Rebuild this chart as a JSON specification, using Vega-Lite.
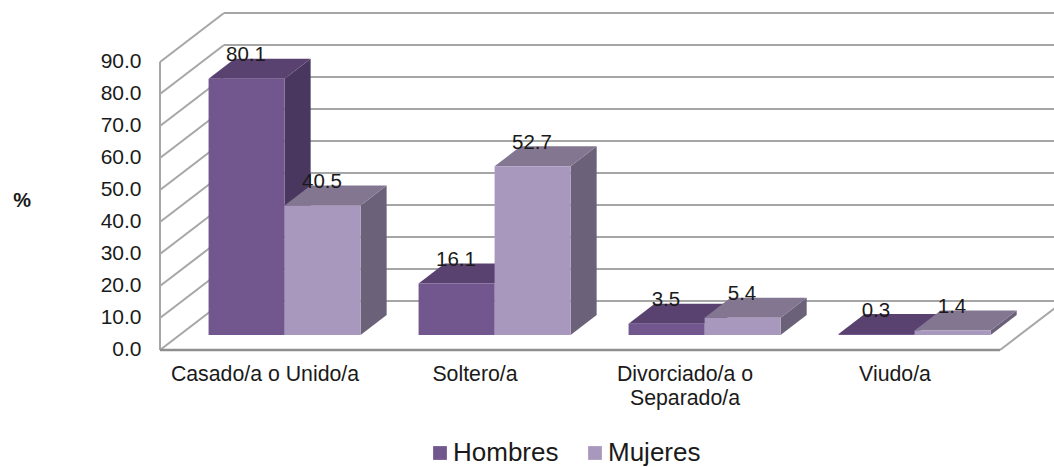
{
"$schema":"https://vega.github.io/schema/vega-lite/v6.json",
"width":1054,"height":467,"padding":0,"autosize":{"type":"none"},
"background":"#ffffff",
"config":{"view":{"stroke":null},"font":"Liberation Sans"},
"datasets":{
"barras":[
{"categoria":"Casado/a o Unido/a","orden":0,"sexo":"Hombres","valor":80.1},
{"categoria":"Casado/a o Unido/a","orden":0,"sexo":"Mujeres","valor":40.5},
{"categoria":"Soltero/a","orden":1,"sexo":"Hombres","valor":16.1},
{"categoria":"Soltero/a","orden":1,"sexo":"Mujeres","valor":52.7},
{"categoria":"Divorciado/a o\nSeparado/a","orden":2,"sexo":"Hombres","valor":3.5},
{"categoria":"Divorciado/a o\nSeparado/a","orden":2,"sexo":"Mujeres","valor":5.4},
{"categoria":"Viudo/a","orden":3,"sexo":"Hombres","valor":0.3},
{"categoria":"Viudo/a","orden":3,"sexo":"Mujeres","valor":1.4}],
"niveles":[{"nivel":0},{"nivel":10},{"nivel":20},{"nivel":30},{"nivel":40},{"nivel":50},{"nivel":60},{"nivel":70},{"nivel":80},{"nivel":90}],
"categorias":[{"categoria":"Casado/a o Unido/a","orden":0},{"categoria":"Soltero/a","orden":1},{"categoria":"Divorciado/a o\nSeparado/a","orden":2},{"categoria":"Viudo/a","orden":3}],
"eje":[{"nombre":"%"}]
},
"layer":[
{"data":{"name":"niveles"},
 "transform":[{"calculate":"datum.nivel+15.3","as":"fondo"}],
 "mark":{"type":"rule","color":"#a6a6a6","strokeWidth":2,"clip":true},
 "encoding":{
  "x":{"datum":0,"type":"quantitative","axis":null,"scale":{"domain":[-0.7619,4.2571],"nice":false,"zero":false}},
  "x2":{"datum":0.3048},
  "y":{"field":"nivel","type":"quantitative","scale":{"domain":[-36.56,109.375],"nice":false,"zero":false},
   "axis":{"values":[0,10,20,30,40,50,60,70,80,90],"format":".1f","title":null,"offset":-160,"ticks":false,"domain":false,"grid":false,"labelPadding":19,"labelFontSize":21,"labelColor":"#1a1a1a","labelOffset":-1,"labelFont":"Liberation Sans"}},
  "y2":{"field":"fondo"}}},
{"data":{"name":"niveles"},
 "transform":[{"calculate":"datum.nivel+15.3","as":"fondo"}],
 "mark":{"type":"rule","color":"#a6a6a6","strokeWidth":2,"clip":true},
 "encoding":{
  "x":{"datum":0.3048,"type":"quantitative","axis":null,"scale":{"domain":[-0.7619,4.2571],"nice":false,"zero":false}},
  "x2":{"datum":4.3048},
  "y":{"field":"fondo","type":"quantitative","scale":{"domain":[-36.56,109.375],"nice":false,"zero":false}}}},
{"data":{"name":"eje"},
 "mark":{"type":"rule","color":"#a6a6a6","strokeWidth":2},
 "encoding":{
  "x":{"datum":0,"type":"quantitative","axis":null,"scale":{"domain":[-0.7619,4.2571],"nice":false,"zero":false}},
  "y":{"datum":0,"type":"quantitative","scale":{"domain":[-36.56,109.375],"nice":false,"zero":false}},
  "y2":{"datum":90}}},
{"data":{"name":"eje"},
 "mark":{"type":"rule","color":"#8f8f8f","strokeWidth":2.5},
 "encoding":{
  "x":{"datum":0,"type":"quantitative","axis":null,"scale":{"domain":[-0.7619,4.2571],"nice":false,"zero":false}},
  "x2":{"datum":4},
  "y":{"datum":0,"type":"quantitative","scale":{"domain":[-36.56,109.375],"nice":false,"zero":false}}}},
{"data":{"name":"eje"},
 "mark":{"type":"rule","color":"#a6a6a6","strokeWidth":2,"clip":true},
 "encoding":{
  "x":{"datum":4,"type":"quantitative","axis":null,"scale":{"domain":[-0.7619,4.2571],"nice":false,"zero":false}},
  "x2":{"datum":4.3048},
  "y":{"datum":0,"type":"quantitative","scale":{"domain":[-36.56,109.375],"nice":false,"zero":false}},
  "y2":{"datum":15.3}}},
{"data":{"name":"barras"},
 "transform":[
  {"calculate":"datum.orden+0.138+(datum.sexo==='Mujeres'?0.362:0)","as":"ul"},
  {"calculate":"[0,1]","as":"d"},{"flatten":["d"]},
  {"calculate":"datum.ul+0.362+0.0933+0.124*datum.d","as":"xs"},
  {"calculate":"4.69+6.25*datum.d","as":"yl"},
  {"calculate":"datum.yl+datum.valor","as":"yu"},
  {"calculate":"datum.categoria+datum.sexo","as":"clave"}],
 "mark":{"type":"area","clip":true,"line":false},
 "encoding":{
  "x":{"field":"xs","type":"quantitative","axis":null,"scale":{"domain":[-0.7619,4.2571],"nice":false,"zero":false}},
  "y":{"field":"yl","type":"quantitative","stack":null,"scale":{"domain":[-36.56,109.375],"nice":false,"zero":false}},
  "y2":{"field":"yu"},
  "detail":{"field":"clave"},
  "color":{"field":"sexo","type":"nominal","legend":null,"scale":{"domain":["Hombres","Mujeres"],"range":["#4a3760","#6b6279"]}}}},
{"data":{"name":"barras"},
 "transform":[
  {"calculate":"datum.orden+0.138+(datum.sexo==='Mujeres'?0.362:0)","as":"ul"},
  {"calculate":"[0,1]","as":"d"},{"flatten":["d"]},
  {"calculate":"datum.ul+0.0933+0.124*datum.d","as":"xa"},
  {"calculate":"datum.xa+0.362","as":"xb"},
  {"calculate":"datum.valor+4.69+6.25*datum.d","as":"yt"},
  {"calculate":"datum.categoria+datum.sexo","as":"clave"}],
 "mark":{"type":"area","orient":"horizontal","clip":true},
 "encoding":{
  "y":{"field":"yt","type":"quantitative","scale":{"domain":[-36.56,109.375],"nice":false,"zero":false}},
  "x":{"field":"xa","type":"quantitative","axis":null,"stack":null,"scale":{"domain":[-0.7619,4.2571],"nice":false,"zero":false}},
  "x2":{"field":"xb"},
  "detail":{"field":"clave"},
  "color":{"field":"sexo","type":"nominal","legend":null,"scale":{"domain":["Hombres","Mujeres"],"range":["#5a4270","#837691"]}}}},
{"data":{"name":"barras"},
 "transform":[
  {"calculate":"datum.orden+0.138+(datum.sexo==='Mujeres'?0.362:0)+0.0933","as":"xl"},
  {"calculate":"datum.xl+0.362","as":"xr"},
  {"calculate":"datum.valor+4.69","as":"yt"},
  {"calculate":"4.69","as":"yb"}],
 "mark":{"type":"rect"},
 "encoding":{
  "x":{"field":"xl","type":"quantitative","axis":null,"scale":{"domain":[-0.7619,4.2571],"nice":false,"zero":false}},
  "x2":{"field":"xr"},
  "y":{"field":"yb","type":"quantitative","scale":{"domain":[-36.56,109.375],"nice":false,"zero":false}},
  "y2":{"field":"yt"},
  "color":{"field":"sexo","type":"nominal","scale":{"domain":["Hombres","Mujeres"],"range":["#72578e","#a998be"]},
   "legend":{"orient":"none","legendX":427,"legendY":440,"direction":"horizontal","columns":2,"title":null,"symbolType":"square","symbolSize":190,"symbolStrokeWidth":0,"labelFontSize":26,"labelColor":"#1a1a1a","labelFont":"Liberation Sans","columnPadding":23,"labelOffset":0}}}},
{"data":{"name":"barras"},
 "transform":[
  {"calculate":"datum.orden+0.138+(datum.sexo==='Mujeres'?0.362:0)+0.0933+0.178","as":"xc"},
  {"calculate":"datum.valor+12","as":"yt"}],
 "mark":{"type":"text","fontSize":20.5,"color":"#1a1a1a","baseline":"middle","align":"center","font":"Liberation Sans"},
 "encoding":{
  "x":{"field":"xc","type":"quantitative","axis":null,"scale":{"domain":[-0.7619,4.2571],"nice":false,"zero":false}},
  "y":{"field":"yt","type":"quantitative","scale":{"domain":[-36.56,109.375],"nice":false,"zero":false}},
  "text":{"field":"valor","type":"quantitative","format":".1f"}}},
{"data":{"name":"categorias"},
 "transform":[{"calculate":"datum.orden+0.5","as":"xc"}],
 "mark":{"type":"text","fontSize":21.3,"color":"#1a1a1a","baseline":"top","align":"center","lineBreak":"\n","lineHeight":24,"font":"Liberation Sans"},
 "encoding":{
  "x":{"field":"xc","type":"quantitative","axis":null,"scale":{"domain":[-0.7619,4.2571],"nice":false,"zero":false}},
  "y":{"datum":-4.4,"type":"quantitative","scale":{"domain":[-36.56,109.375],"nice":false,"zero":false}},
  "text":{"field":"categoria"}}},
{"data":{"name":"eje"},
 "mark":{"type":"text","fontSize":20,"fontWeight":"bold","color":"#1a1a1a","baseline":"middle","align":"center","font":"Liberation Sans"},
 "encoding":{
  "x":{"datum":-0.657,"type":"quantitative","axis":null,"scale":{"domain":[-0.7619,4.2571],"nice":false,"zero":false}},
  "y":{"datum":46.6,"type":"quantitative","scale":{"domain":[-36.56,109.375],"nice":false,"zero":false}},
  "text":{"field":"nombre"}}}
],
"resolve":{"scale":{"color":"independent"},"legend":{"color":"independent"}}
}
